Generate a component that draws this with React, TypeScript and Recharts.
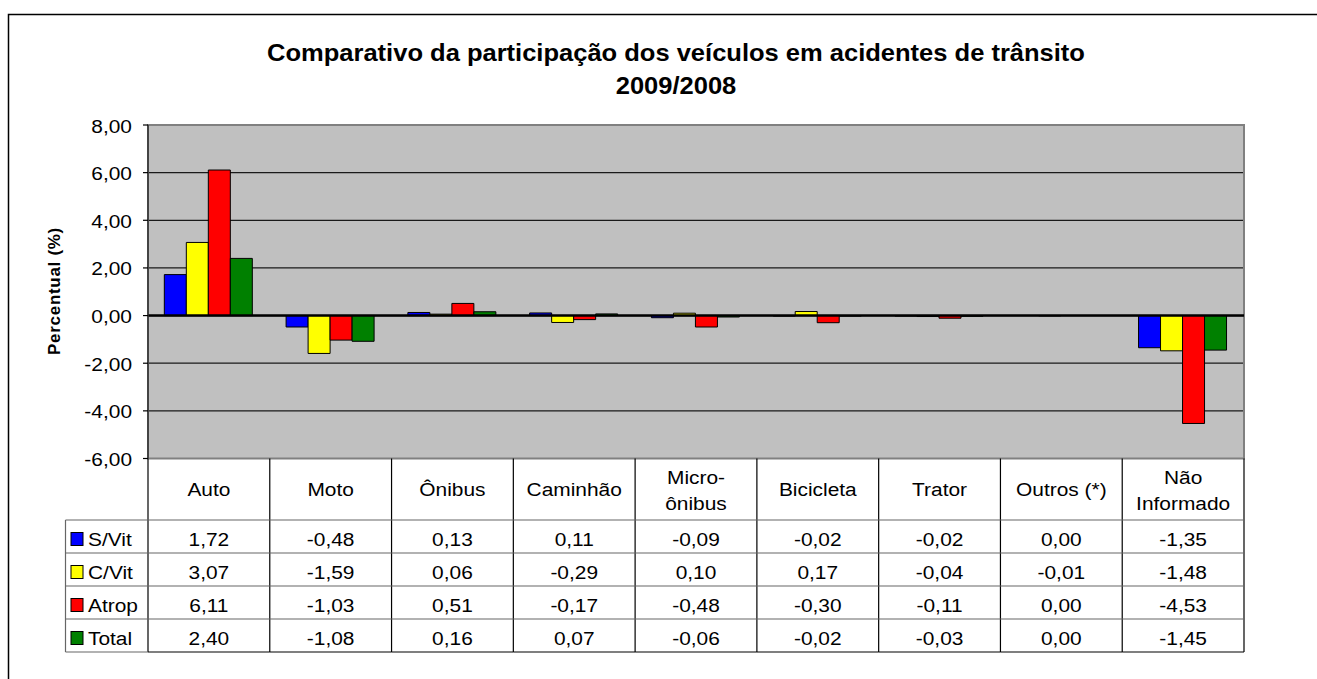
import React from 'react';
import {
  BarChart,
  Bar,
  XAxis,
  YAxis,
  CartesianGrid,
  ReferenceLine,
  ReferenceArea,
  Customized,
} from 'recharts';

// ---------- data ----------
const categories = ['Auto', 'Moto', 'Ônibus', 'Caminhão', 'Micro-ônibus', 'Bicicleta', 'Trator', 'Outros (*)', 'Não Informado'];
const categoryLines = [['Auto'], ['Moto'], ['Ônibus'], ['Caminhão'], ['Micro-', 'ônibus'], ['Bicicleta'], ['Trator'], ['Outros (*)'], ['Não', 'Informado']];
const seriesNames = ['S/Vit', 'C/Vit', 'Atrop', 'Total'];
const seriesKeys = ['sVit', 'cVit', 'atrop', 'total'];
const seriesColors = ['#0000FF', '#FFFF00', '#FF0000', '#008000'];
const sVit = [1.72, -0.48, 0.13, 0.11, -0.09, -0.02, -0.02, 0.0, -1.35];
const cVit = [3.07, -1.59, 0.06, -0.29, 0.1, 0.17, -0.04, -0.01, -1.48];
const atrop = [6.11, -1.03, 0.51, -0.17, -0.48, -0.3, -0.11, 0.0, -4.53];
const total = [2.4, -1.08, 0.16, 0.07, -0.06, -0.02, -0.03, 0.0, -1.45];
const seriesValues = [sVit, cVit, atrop, total];
const yTicks = [-6, -4, -2, 0, 2, 4, 6, 8];
const titleLines = ['Comparativo da participação dos veículos em acidentes de trânsito', '2009/2008'];
const yAxisTitle = 'Percentual (%)';

const data = categories.map((name, i) => {
  const row: any = { name };
  seriesKeys.forEach((k, s) => {
    row[k] = seriesValues[s][i];
  });
  return row;
});

// ---------- layout ----------
const W = 1317;
const H = 679;
const PLOT_LEFT = 148;
const PLOT_TOP = 125;
const PLOT_RIGHT = 1244;
const PLOT_BOTTOM = 458.5;
const BAND = (PLOT_RIGHT - PLOT_LEFT) / categories.length;
const HEADER_H = 61.5;
const ROW_H = 33;
const LEGEND_LEFT = 65.5;
const FONT = '"Liberation Sans", Arial, Helvetica, sans-serif';
const SX = 1.1;

const fmt = (v: number) => v.toFixed(2).replace('.', ',').replace('-0,00', '0,00');

const SText = ({ x, y, anchor = 'middle', size = 19, bold = false, children }: any) => (
  <text
    transform={`translate(${x},${y}) scale(${SX},1)`}
    x={0}
    y={0}
    textAnchor={anchor}
    fontFamily={FONT}
    fontSize={size}
    fontWeight={bold ? 'bold' : 'normal'}
    fill="#000"
  >
    {children}
  </text>
);

const YTick = (props: any) => {
  const { x, y, payload } = props;
  return (
    <SText x={x} y={y + 7.5} anchor="end" size={19}>
      {fmt(payload.value)}
    </SText>
  );
};

const XTick = (props: any) => {
  const { x, y, payload, index } = props;
  const i = payload && payload.index != null ? payload.index : index;
  const left = x - BAND / 2;
  const right = x + BAND / 2;
  const top = y;
  const hb = top + HEADER_H;
  const bottom = hb + ROW_H * seriesNames.length;
  const lines = categoryLines[i] || [String(payload.value)];
  const rowsY = seriesNames.map((_, r) => hb + r * ROW_H);
  return (
    <g>
      {i === 0 && <line x1={left} x2={left} y1={top} y2={bottom} stroke="#000" strokeWidth={1.2} />}
      <line x1={right} x2={right} y1={top} y2={bottom} stroke="#000" strokeWidth={1.2} />
      {[...rowsY, bottom].map((ry, r) => (
        <line key={'h' + r} x1={left} x2={right} y1={ry} y2={ry} stroke={r === seriesNames.length ? '#000' : '#666'} strokeWidth={1.2} />
      ))}
      {lines.length === 1 ? (
        <SText x={x} y={top + 37.5}>{lines[0]}</SText>
      ) : (
        lines.map((t: string, k: number) => (
          <SText key={'l' + k} x={x} y={top + 25 + k * 26}>{t}</SText>
        ))
      )}
      {seriesValues.map((vals, r) => (
        <SText key={'v' + r} x={x} y={rowsY[r] + 26}>{fmt(vals[i])}</SText>
      ))}
      {i === 0 && (
        <g>
          <line x1={LEGEND_LEFT} x2={LEGEND_LEFT} y1={hb} y2={bottom} stroke="#666" strokeWidth={1.2} />
          {[...rowsY, bottom].map((ry, r) => (
            <line key={'lh' + r} x1={LEGEND_LEFT} x2={left} y1={ry} y2={ry} stroke="#666" strokeWidth={1.2} />
          ))}
          {seriesNames.map((n, r) => (
            <g key={'lg' + r}>
              <rect x={LEGEND_LEFT + 5.5} y={rowsY[r] + 12.5} width={12} height={13} fill={seriesColors[r]} stroke="#000" strokeWidth={1} />
              <SText x={LEGEND_LEFT + 22.5} y={rowsY[r] + 26} anchor="start">{n}</SText>
            </g>
          ))}
        </g>
      )}
    </g>
  );
};

const Decor = () => (
  <g>
    <path d="M 8.5 700 L 8.5 14.5 L 1400 14.5" fill="none" stroke="#000" strokeWidth={1.5} />
    {titleLines.map((t, k) => (
      <SText key={k} x={676} y={61 + k * 33} size={23.2} bold>
        {t}
      </SText>
    ))}
    <text
      transform="translate(60,291) rotate(-90)"
      textAnchor="middle"
      fontFamily={FONT}
      fontSize={17}
      fontWeight="bold"
      letterSpacing={0.7}
      fill="#000"
    >
      {yAxisTitle}
    </text>
  </g>
);

export default function App() {
  return (
    <div style={{ position: 'absolute', left: 0, top: 0, width: W, height: H, background: '#fff', overflow: 'hidden' }}>
      <BarChart
        width={W}
        height={H}
        data={data}
        margin={{ top: PLOT_TOP, right: W - PLOT_RIGHT, bottom: 0, left: 0 }}
        barCategoryGap="13.4%"
        barGap={0}
      >
        <Customized component={<Decor />} />
        <CartesianGrid vertical={false} horizontal stroke="#1a1a1a" strokeWidth={1.2} fill="#C0C0C0" />
        <XAxis
          dataKey="name"
          height={H - PLOT_BOTTOM}
          interval={0}
          tickSize={0}
          tickMargin={0}
          axisLine={false}
          tickLine={false}
          tick={(p: any) => <XTick {...p} />}
        />
        <YAxis
          width={PLOT_LEFT}
          domain={[-6, 8]}
          ticks={yTicks}
          interval={0}
          allowDataOverflow
          tickSize={5}
          tickMargin={11}
          axisLine={{ stroke: '#303030', strokeWidth: 1.5 }}
          tickLine={{ stroke: '#000', strokeWidth: 1.2 }}
          tick={(p: any) => <YTick {...p} />}
        />
        <ReferenceArea y1={-6} y2={8} fill="none" stroke="#808080" strokeWidth={2} />
        {seriesKeys.map((k, s) => (
          <Bar
            key={k}
            dataKey={k}
            name={seriesNames[s]}
            fill={seriesColors[s]}
            stroke="#000"
            strokeWidth={1}
            isAnimationActive={false}
          />
        ))}
        <ReferenceLine y={0} stroke="#000" strokeWidth={2.5} />
      </BarChart>
    </div>
  );
}
